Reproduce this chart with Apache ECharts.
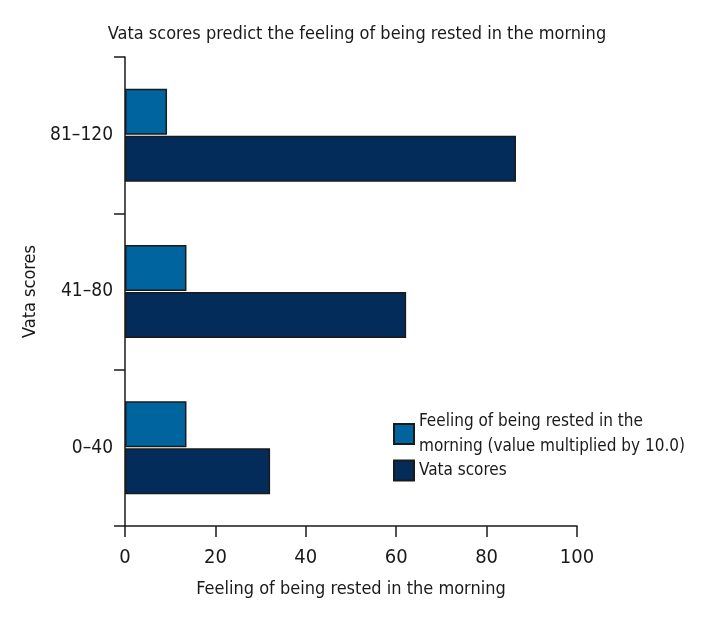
<!DOCTYPE html>
<html>
<head>
<meta charset="utf-8">
<script src="https://cdn.jsdelivr.net/npm/echarts@6/dist/echarts.min.js"></script>
<style>html,body{margin:0;padding:0;background:#fff;}#c{width:720px;height:624px;}</style>
</head>
<body>
<div id="c"></div>
<script>
var categories = ['0\u201340', '41\u201380', '81\u2013120'];
var feelingValues = [13.6, 13.6, 9.3];
var vataValues = [32.1, 62.2, 86.5];
var xTicks = [0, 20, 40, 60, 80, 100];
var seriesNames = ['Feeling of being rested in the\nmorning (value multiplied by 10.0)', 'Vata scores'];

var FONT = '"DejaVu Sans Condensed", "Liberation Sans Narrow", sans-serif';
var TXT = '#1a1a1a';
var chart = echarts.init(document.getElementById('c'), null, {renderer: 'canvas'});
chart.setOption({
  animation: false,
  backgroundColor: '#ffffff',
  title: {
    text: 'Vata scores predict the feeling of being rested in the morning',
    left: 352, top: 20, textAlign: 'center',
    textStyle: {fontFamily: FONT, fontSize: 18, fontWeight: 'normal', color: TXT}
  },
  legend: {
    orient: 'vertical',
    left: 388, top: 404,
    itemWidth: 20, itemHeight: 20, itemGap: -1,
    textStyle: {fontFamily: FONT, fontSize: 17, color: TXT, lineHeight: 25},
    data: seriesNames.map(function (n) { return {name: n, icon: 'rect'}; })
  },
  grid: {left: 125, right: 143, top: 57, bottom: 98, containLabel: false},
  xAxis: {
    type: 'value', min: 0, max: 100, interval: 20,
    name: 'Feeling of being rested in the morning',
    nameLocation: 'middle', nameGap: 54,
    nameTextStyle: {fontFamily: FONT, fontSize: 18, color: TXT},
    axisLine: {show: true, lineStyle: {color: TXT, width: 1.5}},
    axisTick: {show: true, length: 11, lineStyle: {color: TXT, width: 1.5}},
    axisLabel: {fontFamily: FONT, fontSize: 20, color: TXT, margin: 22,
      formatter: function (v) { return xTicks.indexOf(v) >= 0 ? String(v) : ''; }},
    splitLine: {show: false}
  },
  yAxis: {
    type: 'category', data: categories,
    name: 'Vata scores', nameLocation: 'middle', nameGap: 78, nameRotate: 90,
    nameTextStyle: {fontFamily: FONT, fontSize: 18, color: TXT},
    axisLine: {show: true, lineStyle: {color: TXT, width: 1.5}},
    axisTick: {show: true, length: 11, alignWithLabel: false, lineStyle: {color: TXT, width: 1.5}},
    axisLabel: {fontFamily: FONT, fontSize: 19, color: TXT, margin: 12}
  },
  series: [
    {name: seriesNames[0], type: 'bar', data: feelingValues, barWidth: 46, barGap: '2%',
      itemStyle: {color: '#00659f', borderColor: '#1a1a1a', borderWidth: 1.5}},
    {name: seriesNames[1], type: 'bar', data: vataValues, barWidth: 46, barGap: '2%',
      itemStyle: {color: '#042c5a', borderColor: '#1a1a1a', borderWidth: 1.5}}
  ]
});
</script>
</body>
</html>
